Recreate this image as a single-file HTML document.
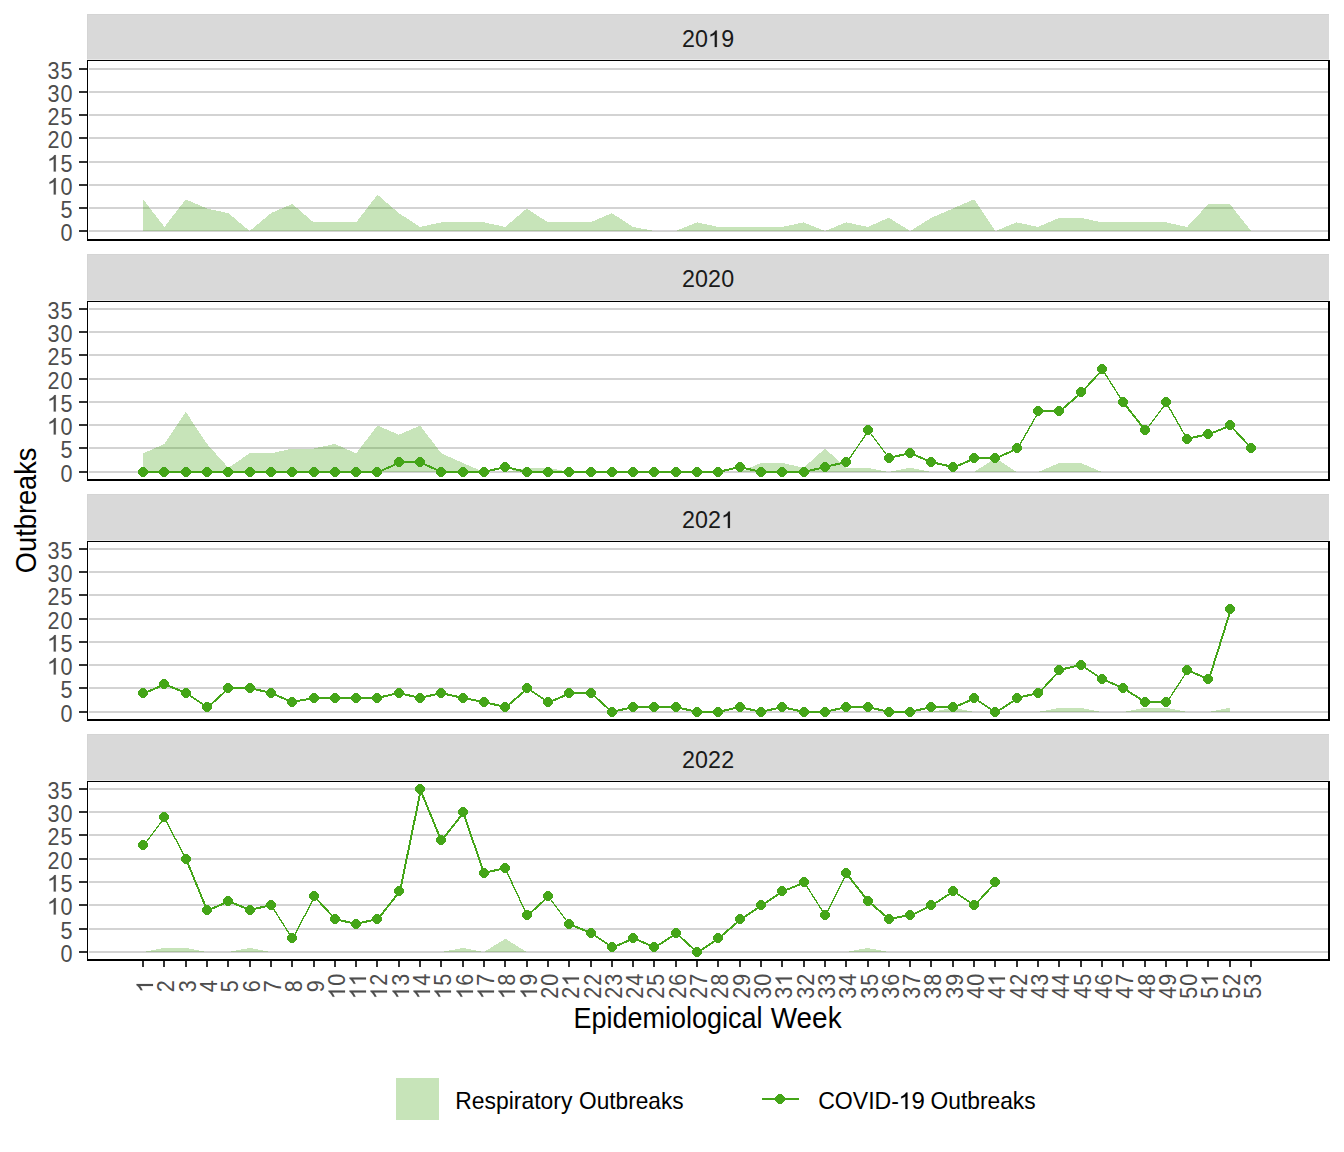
<!DOCTYPE html>
<html><head><meta charset="utf-8"><title>Outbreaks by Epidemiological Week</title>
<style>
html,body{margin:0;padding:0;background:#fff;}
body{width:1344px;height:1152px;overflow:hidden;font-family:"Liberation Sans",sans-serif;}
svg{display:block;}
text{font-family:"Liberation Sans",sans-serif;}
.ax{font-size:24px;fill:#4D4D4D;}
.st{font-size:24px;fill:#1A1A1A;}
.ax path{stroke:#4D4D4D;stroke-width:14;}
.st path,.lg path{stroke:#111;stroke-width:14;}
.ti{font-size:29px;fill:#000;}
.lg{font-size:24px;fill:#000;}
.crisp{shape-rendering:crispEdges;}
</style></head><body>
<svg width="1344" height="1152" viewBox="0 0 1344 1152">
<rect x="0" y="0" width="1344" height="1152" fill="#fff"/>
<g class="crisp"><rect x="87" y="14" width="1242" height="45" fill="#D9D9D9"/><rect x="87" y="14" width="1242" height="1" fill="#D4D4D4"/><rect x="87" y="14" width="1" height="45" fill="#D4D4D4"/><rect x="87" y="59" width="1242" height="1" fill="#E8E8E8"/></g>
<g class="st"><text text-anchor="middle" transform="translate(688.37,47.00) scale(0.97,1)">2</text><text text-anchor="middle" transform="translate(701.47,47.00) scale(0.97,1)">0</text><path d="M763 0H583V1147Q518 1085 412.5 1023Q307 961 223 930V1104Q374 1175 487 1276Q600 1377 647 1472H763Z" transform="translate(707.90,47.00) scale(0.01172,-0.01122)"/><text text-anchor="middle" transform="translate(727.67,47.00) scale(0.97,1)">9</text></g>
<g class="crisp" fill="#D3D3D3"><rect x="89" y="68" width="1239" height="2"/><rect x="89" y="91" width="1239" height="2"/><rect x="89" y="114" width="1239" height="2"/><rect x="89" y="137" width="1239" height="2"/><rect x="89" y="161" width="1239" height="2"/><rect x="89" y="184" width="1239" height="2"/><rect x="89" y="207" width="1239" height="2"/><rect x="89" y="230" width="1239" height="2"/></g>
<g class="crisp" fill="#333333"><rect x="79" y="68" width="8" height="2"/><rect x="79" y="91" width="8" height="2"/><rect x="79" y="114" width="8" height="2"/><rect x="79" y="137" width="8" height="2"/><rect x="79" y="161" width="8" height="2"/><rect x="79" y="184" width="8" height="2"/><rect x="79" y="207" width="8" height="2"/><rect x="79" y="230" width="8" height="2"/></g>
<g class="ax"><text text-anchor="middle" transform="translate(53.56,78.50) scale(0.9,1)">3</text><text text-anchor="middle" transform="translate(66.57,78.50) scale(0.9,1)">5</text><text text-anchor="middle" transform="translate(53.56,101.50) scale(0.9,1)">3</text><text text-anchor="middle" transform="translate(66.57,101.50) scale(0.9,1)">0</text><text text-anchor="middle" transform="translate(53.56,124.50) scale(0.9,1)">2</text><text text-anchor="middle" transform="translate(66.57,124.50) scale(0.9,1)">5</text><text text-anchor="middle" transform="translate(53.56,147.50) scale(0.9,1)">2</text><text text-anchor="middle" transform="translate(66.57,147.50) scale(0.9,1)">0</text><path d="M763 0H583V1147Q518 1085 412.5 1023Q307 961 223 930V1104Q374 1175 487 1276Q600 1377 647 1472H763Z" transform="translate(46.88,171.50) scale(0.01172,-0.01122)"/><text text-anchor="middle" transform="translate(66.57,171.50) scale(0.9,1)">5</text><path d="M763 0H583V1147Q518 1085 412.5 1023Q307 961 223 930V1104Q374 1175 487 1276Q600 1377 647 1472H763Z" transform="translate(46.88,194.50) scale(0.01172,-0.01122)"/><text text-anchor="middle" transform="translate(66.57,194.50) scale(0.9,1)">0</text><text text-anchor="middle" transform="translate(66.57,217.50) scale(0.9,1)">5</text><text text-anchor="middle" transform="translate(66.57,240.50) scale(0.9,1)">0</text></g>
<path class="crisp" d="M143.11,231.00 L143.11,199.35 L164.42,226.95 L185.72,199.35 L207.03,208.55 L228.34,213.15 L249.65,231.00 L270.95,213.15 L292.26,203.95 L313.57,222.35 L334.87,222.35 L356.18,222.35 L377.49,194.75 L398.79,213.15 L420.10,226.95 L441.41,222.35 L462.71,222.35 L484.02,222.35 L505.33,226.95 L526.64,208.55 L547.94,222.35 L569.25,222.35 L590.56,222.35 L611.86,213.15 L633.17,226.95 L654.48,231.00 L675.78,231.00 L697.09,222.35 L718.40,226.95 L739.71,226.95 L761.01,226.95 L782.32,226.95 L803.63,222.35 L824.93,231.00 L846.24,222.35 L867.55,226.95 L888.86,217.75 L910.16,231.00 L931.47,217.75 L952.78,208.55 L974.08,199.35 L995.39,231.00 L1016.70,222.35 L1038.00,226.95 L1059.31,217.75 L1080.62,217.75 L1101.92,222.35 L1123.23,222.35 L1144.54,222.35 L1165.85,222.35 L1187.15,226.95 L1208.46,203.95 L1229.77,203.95 L1251.07,231.00 L1251.07,231.00 Z" fill="#44A518" fill-opacity="0.3"/>
<g class="crisp" fill="#000"><rect x="87" y="60" width="1243" height="1"/><rect x="87" y="60" width="1" height="181"/><rect x="87" y="239" width="1243" height="2"/><rect x="1328" y="60" width="2" height="181"/></g>
<g class="crisp"><rect x="87" y="254" width="1242" height="46" fill="#D9D9D9"/><rect x="87" y="254" width="1242" height="1" fill="#D4D4D4"/><rect x="87" y="254" width="1" height="46" fill="#D4D4D4"/><rect x="87" y="300" width="1242" height="1" fill="#E8E8E8"/></g>
<g class="st"><text text-anchor="middle" transform="translate(688.37,287.00) scale(0.97,1)">2</text><text text-anchor="middle" transform="translate(701.47,287.00) scale(0.97,1)">0</text><text text-anchor="middle" transform="translate(714.57,287.00) scale(0.97,1)">2</text><text text-anchor="middle" transform="translate(727.67,287.00) scale(0.97,1)">0</text></g>
<g class="crisp" fill="#D3D3D3"><rect x="89" y="308" width="1239" height="2"/><rect x="89" y="331" width="1239" height="2"/><rect x="89" y="354" width="1239" height="2"/><rect x="89" y="378" width="1239" height="2"/><rect x="89" y="401" width="1239" height="2"/><rect x="89" y="424" width="1239" height="2"/><rect x="89" y="447" width="1239" height="2"/><rect x="89" y="471" width="1239" height="2"/></g>
<g class="crisp" fill="#333333"><rect x="79" y="308" width="8" height="2"/><rect x="79" y="331" width="8" height="2"/><rect x="79" y="354" width="8" height="2"/><rect x="79" y="378" width="8" height="2"/><rect x="79" y="401" width="8" height="2"/><rect x="79" y="424" width="8" height="2"/><rect x="79" y="447" width="8" height="2"/><rect x="79" y="471" width="8" height="2"/></g>
<g class="ax"><text text-anchor="middle" transform="translate(53.56,318.50) scale(0.9,1)">3</text><text text-anchor="middle" transform="translate(66.57,318.50) scale(0.9,1)">5</text><text text-anchor="middle" transform="translate(53.56,341.50) scale(0.9,1)">3</text><text text-anchor="middle" transform="translate(66.57,341.50) scale(0.9,1)">0</text><text text-anchor="middle" transform="translate(53.56,364.50) scale(0.9,1)">2</text><text text-anchor="middle" transform="translate(66.57,364.50) scale(0.9,1)">5</text><text text-anchor="middle" transform="translate(53.56,388.50) scale(0.9,1)">2</text><text text-anchor="middle" transform="translate(66.57,388.50) scale(0.9,1)">0</text><path d="M763 0H583V1147Q518 1085 412.5 1023Q307 961 223 930V1104Q374 1175 487 1276Q600 1377 647 1472H763Z" transform="translate(46.88,411.50) scale(0.01172,-0.01122)"/><text text-anchor="middle" transform="translate(66.57,411.50) scale(0.9,1)">5</text><path d="M763 0H583V1147Q518 1085 412.5 1023Q307 961 223 930V1104Q374 1175 487 1276Q600 1377 647 1472H763Z" transform="translate(46.88,434.50) scale(0.01172,-0.01122)"/><text text-anchor="middle" transform="translate(66.57,434.50) scale(0.9,1)">0</text><text text-anchor="middle" transform="translate(66.57,457.50) scale(0.9,1)">5</text><text text-anchor="middle" transform="translate(66.57,481.50) scale(0.9,1)">0</text></g>
<path class="crisp" d="M143.11,472.00 L143.11,453.35 L164.42,443.95 L185.72,411.75 L207.03,443.95 L228.34,467.75 L249.65,453.35 L270.95,453.35 L292.26,448.55 L313.57,448.55 L334.87,443.95 L356.18,453.35 L377.49,425.55 L398.79,434.75 L420.10,425.55 L441.41,453.35 L462.71,462.95 L484.02,472.00 L505.33,472.00 L526.64,467.75 L547.94,467.75 L569.25,472.00 L590.56,472.00 L611.86,472.00 L633.17,472.00 L654.48,472.00 L675.78,472.00 L697.09,472.00 L718.40,472.00 L739.71,472.00 L761.01,462.95 L782.32,462.95 L803.63,467.75 L824.93,448.55 L846.24,467.75 L867.55,467.75 L888.86,472.00 L910.16,467.75 L931.47,472.00 L952.78,472.00 L974.08,472.00 L995.39,458.15 L1016.70,472.00 L1038.00,472.00 L1059.31,462.95 L1080.62,462.95 L1101.92,472.00 L1123.23,472.00 L1144.54,472.00 L1165.85,472.00 L1187.15,472.00 L1208.46,472.00 L1229.77,472.00 L1251.07,472.00 L1251.07,472.00 Z" fill="#44A518" fill-opacity="0.3"/>
<g class="crisp" fill="none" stroke="#44A518"><line x1="143.00" y1="472.00" x2="164.00" y2="472.00" stroke-width="2.00"/><line x1="164.00" y1="472.00" x2="186.00" y2="472.00" stroke-width="2.00"/><line x1="186.00" y1="472.00" x2="207.00" y2="472.00" stroke-width="2.00"/><line x1="207.00" y1="472.00" x2="228.00" y2="472.00" stroke-width="2.00"/><line x1="228.00" y1="472.00" x2="250.00" y2="472.00" stroke-width="2.00"/><line x1="250.00" y1="472.00" x2="271.00" y2="472.00" stroke-width="2.00"/><line x1="271.00" y1="472.00" x2="292.00" y2="472.00" stroke-width="2.00"/><line x1="292.00" y1="472.00" x2="314.00" y2="472.00" stroke-width="2.00"/><line x1="314.00" y1="472.00" x2="335.00" y2="472.00" stroke-width="2.00"/><line x1="335.00" y1="472.00" x2="356.00" y2="472.00" stroke-width="2.00"/><line x1="356.00" y1="472.00" x2="377.00" y2="472.00" stroke-width="2.00"/><line x1="377.50" y1="472.50" x2="399.50" y2="462.50" stroke-width="1.90"/><line x1="399.00" y1="462.00" x2="420.00" y2="462.00" stroke-width="2.00"/><line x1="420.00" y1="462.00" x2="441.00" y2="472.00" stroke-width="1.90"/><line x1="441.00" y1="472.00" x2="463.00" y2="472.00" stroke-width="2.00"/><line x1="463.00" y1="472.00" x2="484.00" y2="472.00" stroke-width="2.00"/><line x1="484.00" y1="472.00" x2="505.00" y2="467.00" stroke-width="2.00"/><line x1="505.00" y1="467.00" x2="527.00" y2="472.00" stroke-width="2.00"/><line x1="527.00" y1="472.00" x2="548.00" y2="472.00" stroke-width="2.00"/><line x1="548.00" y1="472.00" x2="569.00" y2="472.00" stroke-width="2.00"/><line x1="569.00" y1="472.00" x2="591.00" y2="472.00" stroke-width="2.00"/><line x1="591.00" y1="472.00" x2="612.00" y2="472.00" stroke-width="2.00"/><line x1="612.00" y1="472.00" x2="633.00" y2="472.00" stroke-width="2.00"/><line x1="633.00" y1="472.00" x2="654.00" y2="472.00" stroke-width="2.00"/><line x1="654.00" y1="472.00" x2="676.00" y2="472.00" stroke-width="2.00"/><line x1="676.00" y1="472.00" x2="697.00" y2="472.00" stroke-width="2.00"/><line x1="697.00" y1="472.00" x2="718.00" y2="472.00" stroke-width="2.00"/><line x1="718.00" y1="472.00" x2="740.00" y2="467.00" stroke-width="2.00"/><line x1="740.00" y1="467.00" x2="761.00" y2="472.00" stroke-width="2.00"/><line x1="761.00" y1="472.00" x2="782.00" y2="472.00" stroke-width="2.00"/><line x1="782.00" y1="472.00" x2="804.00" y2="472.00" stroke-width="2.00"/><line x1="804.00" y1="472.00" x2="825.00" y2="467.00" stroke-width="2.00"/><line x1="825.00" y1="467.00" x2="846.00" y2="462.00" stroke-width="2.00"/><line x1="847.00" y1="462.00" x2="869.00" y2="430.00" stroke-width="1.24"/><line x1="868.00" y1="430.00" x2="889.00" y2="458.00" stroke-width="1.20"/><line x1="889.00" y1="458.00" x2="910.00" y2="453.00" stroke-width="2.00"/><line x1="910.00" y1="453.00" x2="931.00" y2="462.00" stroke-width="1.90"/><line x1="931.00" y1="462.00" x2="953.00" y2="467.00" stroke-width="2.00"/><line x1="953.50" y1="467.50" x2="974.50" y2="458.50" stroke-width="1.90"/><line x1="974.00" y1="458.00" x2="995.00" y2="458.00" stroke-width="2.00"/><line x1="995.50" y1="458.50" x2="1017.50" y2="448.50" stroke-width="1.90"/><line x1="1018.00" y1="448.00" x2="1039.00" y2="411.00" stroke-width="1.30"/><line x1="1038.00" y1="411.00" x2="1059.00" y2="411.00" stroke-width="2.00"/><line x1="1059.50" y1="411.50" x2="1081.50" y2="392.50" stroke-width="1.90"/><line x1="1082.00" y1="392.00" x2="1103.00" y2="369.00" stroke-width="1.90"/><line x1="1102.00" y1="369.00" x2="1123.00" y2="402.00" stroke-width="1.27"/><line x1="1123.00" y1="402.00" x2="1145.00" y2="430.00" stroke-width="1.90"/><line x1="1146.00" y1="430.00" x2="1167.00" y2="402.00" stroke-width="1.20"/><line x1="1166.00" y1="402.00" x2="1187.00" y2="439.00" stroke-width="1.30"/><line x1="1187.00" y1="439.00" x2="1208.00" y2="434.00" stroke-width="2.00"/><line x1="1208.50" y1="434.50" x2="1230.50" y2="425.50" stroke-width="1.90"/><line x1="1230.00" y1="425.00" x2="1251.00" y2="448.00" stroke-width="1.90"/></g>
<g class="crisp" fill="#44A518"><polygon points="141.40,467.00 144.60,467.00 148.00,470.40 148.00,473.60 144.60,477.00 141.40,477.00 138.00,473.60 138.00,470.40"/><polygon points="162.40,467.00 165.60,467.00 169.00,470.40 169.00,473.60 165.60,477.00 162.40,477.00 159.00,473.60 159.00,470.40"/><polygon points="184.40,467.00 187.60,467.00 191.00,470.40 191.00,473.60 187.60,477.00 184.40,477.00 181.00,473.60 181.00,470.40"/><polygon points="205.40,467.00 208.60,467.00 212.00,470.40 212.00,473.60 208.60,477.00 205.40,477.00 202.00,473.60 202.00,470.40"/><polygon points="226.40,467.00 229.60,467.00 233.00,470.40 233.00,473.60 229.60,477.00 226.40,477.00 223.00,473.60 223.00,470.40"/><polygon points="248.40,467.00 251.60,467.00 255.00,470.40 255.00,473.60 251.60,477.00 248.40,477.00 245.00,473.60 245.00,470.40"/><polygon points="269.40,467.00 272.60,467.00 276.00,470.40 276.00,473.60 272.60,477.00 269.40,477.00 266.00,473.60 266.00,470.40"/><polygon points="290.40,467.00 293.60,467.00 297.00,470.40 297.00,473.60 293.60,477.00 290.40,477.00 287.00,473.60 287.00,470.40"/><polygon points="312.40,467.00 315.60,467.00 319.00,470.40 319.00,473.60 315.60,477.00 312.40,477.00 309.00,473.60 309.00,470.40"/><polygon points="333.40,467.00 336.60,467.00 340.00,470.40 340.00,473.60 336.60,477.00 333.40,477.00 330.00,473.60 330.00,470.40"/><polygon points="354.40,467.00 357.60,467.00 361.00,470.40 361.00,473.60 357.60,477.00 354.40,477.00 351.00,473.60 351.00,470.40"/><polygon points="375.40,467.00 378.60,467.00 382.00,470.40 382.00,473.60 378.60,477.00 375.40,477.00 372.00,473.60 372.00,470.40"/><polygon points="397.40,457.00 400.60,457.00 404.00,460.40 404.00,463.60 400.60,467.00 397.40,467.00 394.00,463.60 394.00,460.40"/><polygon points="418.40,457.00 421.60,457.00 425.00,460.40 425.00,463.60 421.60,467.00 418.40,467.00 415.00,463.60 415.00,460.40"/><polygon points="439.40,467.00 442.60,467.00 446.00,470.40 446.00,473.60 442.60,477.00 439.40,477.00 436.00,473.60 436.00,470.40"/><polygon points="461.40,467.00 464.60,467.00 468.00,470.40 468.00,473.60 464.60,477.00 461.40,477.00 458.00,473.60 458.00,470.40"/><polygon points="482.40,467.00 485.60,467.00 489.00,470.40 489.00,473.60 485.60,477.00 482.40,477.00 479.00,473.60 479.00,470.40"/><polygon points="503.40,462.00 506.60,462.00 510.00,465.40 510.00,468.60 506.60,472.00 503.40,472.00 500.00,468.60 500.00,465.40"/><polygon points="525.40,467.00 528.60,467.00 532.00,470.40 532.00,473.60 528.60,477.00 525.40,477.00 522.00,473.60 522.00,470.40"/><polygon points="546.40,467.00 549.60,467.00 553.00,470.40 553.00,473.60 549.60,477.00 546.40,477.00 543.00,473.60 543.00,470.40"/><polygon points="567.40,467.00 570.60,467.00 574.00,470.40 574.00,473.60 570.60,477.00 567.40,477.00 564.00,473.60 564.00,470.40"/><polygon points="589.40,467.00 592.60,467.00 596.00,470.40 596.00,473.60 592.60,477.00 589.40,477.00 586.00,473.60 586.00,470.40"/><polygon points="610.40,467.00 613.60,467.00 617.00,470.40 617.00,473.60 613.60,477.00 610.40,477.00 607.00,473.60 607.00,470.40"/><polygon points="631.40,467.00 634.60,467.00 638.00,470.40 638.00,473.60 634.60,477.00 631.40,477.00 628.00,473.60 628.00,470.40"/><polygon points="652.40,467.00 655.60,467.00 659.00,470.40 659.00,473.60 655.60,477.00 652.40,477.00 649.00,473.60 649.00,470.40"/><polygon points="674.40,467.00 677.60,467.00 681.00,470.40 681.00,473.60 677.60,477.00 674.40,477.00 671.00,473.60 671.00,470.40"/><polygon points="695.40,467.00 698.60,467.00 702.00,470.40 702.00,473.60 698.60,477.00 695.40,477.00 692.00,473.60 692.00,470.40"/><polygon points="716.40,467.00 719.60,467.00 723.00,470.40 723.00,473.60 719.60,477.00 716.40,477.00 713.00,473.60 713.00,470.40"/><polygon points="738.40,462.00 741.60,462.00 745.00,465.40 745.00,468.60 741.60,472.00 738.40,472.00 735.00,468.60 735.00,465.40"/><polygon points="759.40,467.00 762.60,467.00 766.00,470.40 766.00,473.60 762.60,477.00 759.40,477.00 756.00,473.60 756.00,470.40"/><polygon points="780.40,467.00 783.60,467.00 787.00,470.40 787.00,473.60 783.60,477.00 780.40,477.00 777.00,473.60 777.00,470.40"/><polygon points="802.40,467.00 805.60,467.00 809.00,470.40 809.00,473.60 805.60,477.00 802.40,477.00 799.00,473.60 799.00,470.40"/><polygon points="823.40,462.00 826.60,462.00 830.00,465.40 830.00,468.60 826.60,472.00 823.40,472.00 820.00,468.60 820.00,465.40"/><polygon points="844.40,457.00 847.60,457.00 851.00,460.40 851.00,463.60 847.60,467.00 844.40,467.00 841.00,463.60 841.00,460.40"/><polygon points="866.40,425.00 869.60,425.00 873.00,428.40 873.00,431.60 869.60,435.00 866.40,435.00 863.00,431.60 863.00,428.40"/><polygon points="887.40,453.00 890.60,453.00 894.00,456.40 894.00,459.60 890.60,463.00 887.40,463.00 884.00,459.60 884.00,456.40"/><polygon points="908.40,448.00 911.60,448.00 915.00,451.40 915.00,454.60 911.60,458.00 908.40,458.00 905.00,454.60 905.00,451.40"/><polygon points="929.40,457.00 932.60,457.00 936.00,460.40 936.00,463.60 932.60,467.00 929.40,467.00 926.00,463.60 926.00,460.40"/><polygon points="951.40,462.00 954.60,462.00 958.00,465.40 958.00,468.60 954.60,472.00 951.40,472.00 948.00,468.60 948.00,465.40"/><polygon points="972.40,453.00 975.60,453.00 979.00,456.40 979.00,459.60 975.60,463.00 972.40,463.00 969.00,459.60 969.00,456.40"/><polygon points="993.40,453.00 996.60,453.00 1000.00,456.40 1000.00,459.60 996.60,463.00 993.40,463.00 990.00,459.60 990.00,456.40"/><polygon points="1015.40,443.00 1018.60,443.00 1022.00,446.40 1022.00,449.60 1018.60,453.00 1015.40,453.00 1012.00,449.60 1012.00,446.40"/><polygon points="1036.40,406.00 1039.60,406.00 1043.00,409.40 1043.00,412.60 1039.60,416.00 1036.40,416.00 1033.00,412.60 1033.00,409.40"/><polygon points="1057.40,406.00 1060.60,406.00 1064.00,409.40 1064.00,412.60 1060.60,416.00 1057.40,416.00 1054.00,412.60 1054.00,409.40"/><polygon points="1079.40,387.00 1082.60,387.00 1086.00,390.40 1086.00,393.60 1082.60,397.00 1079.40,397.00 1076.00,393.60 1076.00,390.40"/><polygon points="1100.40,364.00 1103.60,364.00 1107.00,367.40 1107.00,370.60 1103.60,374.00 1100.40,374.00 1097.00,370.60 1097.00,367.40"/><polygon points="1121.40,397.00 1124.60,397.00 1128.00,400.40 1128.00,403.60 1124.60,407.00 1121.40,407.00 1118.00,403.60 1118.00,400.40"/><polygon points="1143.40,425.00 1146.60,425.00 1150.00,428.40 1150.00,431.60 1146.60,435.00 1143.40,435.00 1140.00,431.60 1140.00,428.40"/><polygon points="1164.40,397.00 1167.60,397.00 1171.00,400.40 1171.00,403.60 1167.60,407.00 1164.40,407.00 1161.00,403.60 1161.00,400.40"/><polygon points="1185.40,434.00 1188.60,434.00 1192.00,437.40 1192.00,440.60 1188.60,444.00 1185.40,444.00 1182.00,440.60 1182.00,437.40"/><polygon points="1206.40,429.00 1209.60,429.00 1213.00,432.40 1213.00,435.60 1209.60,439.00 1206.40,439.00 1203.00,435.60 1203.00,432.40"/><polygon points="1228.40,420.00 1231.60,420.00 1235.00,423.40 1235.00,426.60 1231.60,430.00 1228.40,430.00 1225.00,426.60 1225.00,423.40"/><polygon points="1249.40,443.00 1252.60,443.00 1256.00,446.40 1256.00,449.60 1252.60,453.00 1249.40,453.00 1246.00,449.60 1246.00,446.40"/></g>
<g class="crisp" fill="#000"><rect x="87" y="301" width="1243" height="1"/><rect x="87" y="301" width="1" height="180"/><rect x="87" y="479" width="1243" height="2"/><rect x="1328" y="301" width="2" height="180"/></g>
<g class="crisp"><rect x="87" y="494" width="1242" height="46" fill="#D9D9D9"/><rect x="87" y="494" width="1242" height="1" fill="#D4D4D4"/><rect x="87" y="494" width="1" height="46" fill="#D4D4D4"/><rect x="87" y="540" width="1242" height="1" fill="#E8E8E8"/></g>
<g class="st"><text text-anchor="middle" transform="translate(688.37,528.00) scale(0.97,1)">2</text><text text-anchor="middle" transform="translate(701.47,528.00) scale(0.97,1)">0</text><text text-anchor="middle" transform="translate(714.57,528.00) scale(0.97,1)">2</text><path d="M763 0H583V1147Q518 1085 412.5 1023Q307 961 223 930V1104Q374 1175 487 1276Q600 1377 647 1472H763Z" transform="translate(721.00,528.00) scale(0.01172,-0.01122)"/></g>
<g class="crisp" fill="#D3D3D3"><rect x="89" y="548" width="1239" height="2"/><rect x="89" y="571" width="1239" height="2"/><rect x="89" y="594" width="1239" height="2"/><rect x="89" y="618" width="1239" height="2"/><rect x="89" y="641" width="1239" height="2"/><rect x="89" y="664" width="1239" height="2"/><rect x="89" y="687" width="1239" height="2"/><rect x="89" y="711" width="1239" height="2"/></g>
<g class="crisp" fill="#333333"><rect x="79" y="548" width="8" height="2"/><rect x="79" y="571" width="8" height="2"/><rect x="79" y="594" width="8" height="2"/><rect x="79" y="618" width="8" height="2"/><rect x="79" y="641" width="8" height="2"/><rect x="79" y="664" width="8" height="2"/><rect x="79" y="687" width="8" height="2"/><rect x="79" y="711" width="8" height="2"/></g>
<g class="ax"><text text-anchor="middle" transform="translate(53.56,558.50) scale(0.9,1)">3</text><text text-anchor="middle" transform="translate(66.57,558.50) scale(0.9,1)">5</text><text text-anchor="middle" transform="translate(53.56,581.50) scale(0.9,1)">3</text><text text-anchor="middle" transform="translate(66.57,581.50) scale(0.9,1)">0</text><text text-anchor="middle" transform="translate(53.56,604.50) scale(0.9,1)">2</text><text text-anchor="middle" transform="translate(66.57,604.50) scale(0.9,1)">5</text><text text-anchor="middle" transform="translate(53.56,628.50) scale(0.9,1)">2</text><text text-anchor="middle" transform="translate(66.57,628.50) scale(0.9,1)">0</text><path d="M763 0H583V1147Q518 1085 412.5 1023Q307 961 223 930V1104Q374 1175 487 1276Q600 1377 647 1472H763Z" transform="translate(46.88,651.50) scale(0.01172,-0.01122)"/><text text-anchor="middle" transform="translate(66.57,651.50) scale(0.9,1)">5</text><path d="M763 0H583V1147Q518 1085 412.5 1023Q307 961 223 930V1104Q374 1175 487 1276Q600 1377 647 1472H763Z" transform="translate(46.88,674.50) scale(0.01172,-0.01122)"/><text text-anchor="middle" transform="translate(66.57,674.50) scale(0.9,1)">0</text><text text-anchor="middle" transform="translate(66.57,697.50) scale(0.9,1)">5</text><text text-anchor="middle" transform="translate(66.57,721.50) scale(0.9,1)">0</text></g>
<path class="crisp" d="M143.11,712.00 L143.11,712.00 L164.42,712.00 L185.72,712.00 L207.03,712.00 L228.34,712.00 L249.65,712.00 L270.95,712.00 L292.26,712.00 L313.57,712.00 L334.87,712.00 L356.18,712.00 L377.49,712.00 L398.79,712.00 L420.10,712.00 L441.41,712.00 L462.71,712.00 L484.02,712.00 L505.33,712.00 L526.64,712.00 L547.94,712.00 L569.25,712.00 L590.56,712.00 L611.86,712.00 L633.17,712.00 L654.48,712.00 L675.78,712.00 L697.09,712.00 L718.40,712.00 L739.71,712.00 L761.01,712.00 L782.32,712.00 L803.63,712.00 L824.93,712.00 L846.24,712.00 L867.55,712.00 L888.86,712.00 L910.16,712.00 L931.47,712.00 L952.78,707.75 L974.08,712.00 L995.39,712.00 L1016.70,712.00 L1038.00,712.00 L1059.31,707.75 L1080.62,707.75 L1101.92,712.00 L1123.23,712.00 L1144.54,707.75 L1165.85,707.75 L1187.15,712.00 L1208.46,712.00 L1229.77,707.75 L1229.77,712.00 Z" fill="#44A518" fill-opacity="0.3"/>
<g class="crisp" fill="none" stroke="#44A518"><line x1="143.50" y1="693.50" x2="164.50" y2="684.50" stroke-width="1.90"/><line x1="164.00" y1="684.00" x2="186.00" y2="693.00" stroke-width="1.90"/><line x1="186.00" y1="693.00" x2="207.00" y2="707.00" stroke-width="1.90"/><line x1="207.50" y1="707.50" x2="228.50" y2="688.50" stroke-width="1.90"/><line x1="228.00" y1="688.00" x2="250.00" y2="688.00" stroke-width="2.00"/><line x1="250.00" y1="688.00" x2="271.00" y2="693.00" stroke-width="2.00"/><line x1="271.00" y1="693.00" x2="292.00" y2="702.00" stroke-width="1.90"/><line x1="292.00" y1="702.00" x2="314.00" y2="698.00" stroke-width="2.00"/><line x1="314.00" y1="698.00" x2="335.00" y2="698.00" stroke-width="2.00"/><line x1="335.00" y1="698.00" x2="356.00" y2="698.00" stroke-width="2.00"/><line x1="356.00" y1="698.00" x2="377.00" y2="698.00" stroke-width="2.00"/><line x1="377.00" y1="698.00" x2="399.00" y2="693.00" stroke-width="2.00"/><line x1="399.00" y1="693.00" x2="420.00" y2="698.00" stroke-width="2.00"/><line x1="420.00" y1="698.00" x2="441.00" y2="693.00" stroke-width="2.00"/><line x1="441.00" y1="693.00" x2="463.00" y2="698.00" stroke-width="2.00"/><line x1="463.00" y1="698.00" x2="484.00" y2="702.00" stroke-width="2.00"/><line x1="484.00" y1="702.00" x2="505.00" y2="707.00" stroke-width="2.00"/><line x1="505.50" y1="707.50" x2="527.50" y2="688.50" stroke-width="1.90"/><line x1="527.00" y1="688.00" x2="548.00" y2="702.00" stroke-width="1.90"/><line x1="548.50" y1="702.50" x2="569.50" y2="693.50" stroke-width="1.90"/><line x1="569.00" y1="693.00" x2="591.00" y2="693.00" stroke-width="2.00"/><line x1="591.00" y1="693.00" x2="612.00" y2="712.00" stroke-width="1.90"/><line x1="612.00" y1="712.00" x2="633.00" y2="707.00" stroke-width="2.00"/><line x1="633.00" y1="707.00" x2="654.00" y2="707.00" stroke-width="2.00"/><line x1="654.00" y1="707.00" x2="676.00" y2="707.00" stroke-width="2.00"/><line x1="676.00" y1="707.00" x2="697.00" y2="712.00" stroke-width="2.00"/><line x1="697.00" y1="712.00" x2="718.00" y2="712.00" stroke-width="2.00"/><line x1="718.00" y1="712.00" x2="740.00" y2="707.00" stroke-width="2.00"/><line x1="740.00" y1="707.00" x2="761.00" y2="712.00" stroke-width="2.00"/><line x1="761.00" y1="712.00" x2="782.00" y2="707.00" stroke-width="2.00"/><line x1="782.00" y1="707.00" x2="804.00" y2="712.00" stroke-width="2.00"/><line x1="804.00" y1="712.00" x2="825.00" y2="712.00" stroke-width="2.00"/><line x1="825.00" y1="712.00" x2="846.00" y2="707.00" stroke-width="2.00"/><line x1="846.00" y1="707.00" x2="868.00" y2="707.00" stroke-width="2.00"/><line x1="868.00" y1="707.00" x2="889.00" y2="712.00" stroke-width="2.00"/><line x1="889.00" y1="712.00" x2="910.00" y2="712.00" stroke-width="2.00"/><line x1="910.00" y1="712.00" x2="931.00" y2="707.00" stroke-width="2.00"/><line x1="931.00" y1="707.00" x2="953.00" y2="707.00" stroke-width="2.00"/><line x1="953.50" y1="707.50" x2="974.50" y2="698.50" stroke-width="1.90"/><line x1="974.00" y1="698.00" x2="995.00" y2="712.00" stroke-width="1.90"/><line x1="995.50" y1="712.50" x2="1017.50" y2="698.50" stroke-width="1.90"/><line x1="1017.00" y1="698.00" x2="1038.00" y2="693.00" stroke-width="2.00"/><line x1="1039.00" y1="693.00" x2="1060.00" y2="670.00" stroke-width="1.90"/><line x1="1059.00" y1="670.00" x2="1081.00" y2="665.00" stroke-width="2.00"/><line x1="1081.00" y1="665.00" x2="1102.00" y2="679.00" stroke-width="1.90"/><line x1="1102.00" y1="679.00" x2="1123.00" y2="688.00" stroke-width="1.90"/><line x1="1123.00" y1="688.00" x2="1145.00" y2="702.00" stroke-width="1.90"/><line x1="1145.00" y1="702.00" x2="1166.00" y2="702.00" stroke-width="2.00"/><line x1="1167.00" y1="702.00" x2="1188.00" y2="670.00" stroke-width="1.25"/><line x1="1187.00" y1="670.00" x2="1208.00" y2="679.00" stroke-width="1.90"/><line x1="1209.00" y1="679.00" x2="1231.00" y2="609.00" stroke-width="1.90"/></g>
<g class="crisp" fill="#44A518"><polygon points="141.40,688.00 144.60,688.00 148.00,691.40 148.00,694.60 144.60,698.00 141.40,698.00 138.00,694.60 138.00,691.40"/><polygon points="162.40,679.00 165.60,679.00 169.00,682.40 169.00,685.60 165.60,689.00 162.40,689.00 159.00,685.60 159.00,682.40"/><polygon points="184.40,688.00 187.60,688.00 191.00,691.40 191.00,694.60 187.60,698.00 184.40,698.00 181.00,694.60 181.00,691.40"/><polygon points="205.40,702.00 208.60,702.00 212.00,705.40 212.00,708.60 208.60,712.00 205.40,712.00 202.00,708.60 202.00,705.40"/><polygon points="226.40,683.00 229.60,683.00 233.00,686.40 233.00,689.60 229.60,693.00 226.40,693.00 223.00,689.60 223.00,686.40"/><polygon points="248.40,683.00 251.60,683.00 255.00,686.40 255.00,689.60 251.60,693.00 248.40,693.00 245.00,689.60 245.00,686.40"/><polygon points="269.40,688.00 272.60,688.00 276.00,691.40 276.00,694.60 272.60,698.00 269.40,698.00 266.00,694.60 266.00,691.40"/><polygon points="290.40,697.00 293.60,697.00 297.00,700.40 297.00,703.60 293.60,707.00 290.40,707.00 287.00,703.60 287.00,700.40"/><polygon points="312.40,693.00 315.60,693.00 319.00,696.40 319.00,699.60 315.60,703.00 312.40,703.00 309.00,699.60 309.00,696.40"/><polygon points="333.40,693.00 336.60,693.00 340.00,696.40 340.00,699.60 336.60,703.00 333.40,703.00 330.00,699.60 330.00,696.40"/><polygon points="354.40,693.00 357.60,693.00 361.00,696.40 361.00,699.60 357.60,703.00 354.40,703.00 351.00,699.60 351.00,696.40"/><polygon points="375.40,693.00 378.60,693.00 382.00,696.40 382.00,699.60 378.60,703.00 375.40,703.00 372.00,699.60 372.00,696.40"/><polygon points="397.40,688.00 400.60,688.00 404.00,691.40 404.00,694.60 400.60,698.00 397.40,698.00 394.00,694.60 394.00,691.40"/><polygon points="418.40,693.00 421.60,693.00 425.00,696.40 425.00,699.60 421.60,703.00 418.40,703.00 415.00,699.60 415.00,696.40"/><polygon points="439.40,688.00 442.60,688.00 446.00,691.40 446.00,694.60 442.60,698.00 439.40,698.00 436.00,694.60 436.00,691.40"/><polygon points="461.40,693.00 464.60,693.00 468.00,696.40 468.00,699.60 464.60,703.00 461.40,703.00 458.00,699.60 458.00,696.40"/><polygon points="482.40,697.00 485.60,697.00 489.00,700.40 489.00,703.60 485.60,707.00 482.40,707.00 479.00,703.60 479.00,700.40"/><polygon points="503.40,702.00 506.60,702.00 510.00,705.40 510.00,708.60 506.60,712.00 503.40,712.00 500.00,708.60 500.00,705.40"/><polygon points="525.40,683.00 528.60,683.00 532.00,686.40 532.00,689.60 528.60,693.00 525.40,693.00 522.00,689.60 522.00,686.40"/><polygon points="546.40,697.00 549.60,697.00 553.00,700.40 553.00,703.60 549.60,707.00 546.40,707.00 543.00,703.60 543.00,700.40"/><polygon points="567.40,688.00 570.60,688.00 574.00,691.40 574.00,694.60 570.60,698.00 567.40,698.00 564.00,694.60 564.00,691.40"/><polygon points="589.40,688.00 592.60,688.00 596.00,691.40 596.00,694.60 592.60,698.00 589.40,698.00 586.00,694.60 586.00,691.40"/><polygon points="610.40,707.00 613.60,707.00 617.00,710.40 617.00,713.60 613.60,717.00 610.40,717.00 607.00,713.60 607.00,710.40"/><polygon points="631.40,702.00 634.60,702.00 638.00,705.40 638.00,708.60 634.60,712.00 631.40,712.00 628.00,708.60 628.00,705.40"/><polygon points="652.40,702.00 655.60,702.00 659.00,705.40 659.00,708.60 655.60,712.00 652.40,712.00 649.00,708.60 649.00,705.40"/><polygon points="674.40,702.00 677.60,702.00 681.00,705.40 681.00,708.60 677.60,712.00 674.40,712.00 671.00,708.60 671.00,705.40"/><polygon points="695.40,707.00 698.60,707.00 702.00,710.40 702.00,713.60 698.60,717.00 695.40,717.00 692.00,713.60 692.00,710.40"/><polygon points="716.40,707.00 719.60,707.00 723.00,710.40 723.00,713.60 719.60,717.00 716.40,717.00 713.00,713.60 713.00,710.40"/><polygon points="738.40,702.00 741.60,702.00 745.00,705.40 745.00,708.60 741.60,712.00 738.40,712.00 735.00,708.60 735.00,705.40"/><polygon points="759.40,707.00 762.60,707.00 766.00,710.40 766.00,713.60 762.60,717.00 759.40,717.00 756.00,713.60 756.00,710.40"/><polygon points="780.40,702.00 783.60,702.00 787.00,705.40 787.00,708.60 783.60,712.00 780.40,712.00 777.00,708.60 777.00,705.40"/><polygon points="802.40,707.00 805.60,707.00 809.00,710.40 809.00,713.60 805.60,717.00 802.40,717.00 799.00,713.60 799.00,710.40"/><polygon points="823.40,707.00 826.60,707.00 830.00,710.40 830.00,713.60 826.60,717.00 823.40,717.00 820.00,713.60 820.00,710.40"/><polygon points="844.40,702.00 847.60,702.00 851.00,705.40 851.00,708.60 847.60,712.00 844.40,712.00 841.00,708.60 841.00,705.40"/><polygon points="866.40,702.00 869.60,702.00 873.00,705.40 873.00,708.60 869.60,712.00 866.40,712.00 863.00,708.60 863.00,705.40"/><polygon points="887.40,707.00 890.60,707.00 894.00,710.40 894.00,713.60 890.60,717.00 887.40,717.00 884.00,713.60 884.00,710.40"/><polygon points="908.40,707.00 911.60,707.00 915.00,710.40 915.00,713.60 911.60,717.00 908.40,717.00 905.00,713.60 905.00,710.40"/><polygon points="929.40,702.00 932.60,702.00 936.00,705.40 936.00,708.60 932.60,712.00 929.40,712.00 926.00,708.60 926.00,705.40"/><polygon points="951.40,702.00 954.60,702.00 958.00,705.40 958.00,708.60 954.60,712.00 951.40,712.00 948.00,708.60 948.00,705.40"/><polygon points="972.40,693.00 975.60,693.00 979.00,696.40 979.00,699.60 975.60,703.00 972.40,703.00 969.00,699.60 969.00,696.40"/><polygon points="993.40,707.00 996.60,707.00 1000.00,710.40 1000.00,713.60 996.60,717.00 993.40,717.00 990.00,713.60 990.00,710.40"/><polygon points="1015.40,693.00 1018.60,693.00 1022.00,696.40 1022.00,699.60 1018.60,703.00 1015.40,703.00 1012.00,699.60 1012.00,696.40"/><polygon points="1036.40,688.00 1039.60,688.00 1043.00,691.40 1043.00,694.60 1039.60,698.00 1036.40,698.00 1033.00,694.60 1033.00,691.40"/><polygon points="1057.40,665.00 1060.60,665.00 1064.00,668.40 1064.00,671.60 1060.60,675.00 1057.40,675.00 1054.00,671.60 1054.00,668.40"/><polygon points="1079.40,660.00 1082.60,660.00 1086.00,663.40 1086.00,666.60 1082.60,670.00 1079.40,670.00 1076.00,666.60 1076.00,663.40"/><polygon points="1100.40,674.00 1103.60,674.00 1107.00,677.40 1107.00,680.60 1103.60,684.00 1100.40,684.00 1097.00,680.60 1097.00,677.40"/><polygon points="1121.40,683.00 1124.60,683.00 1128.00,686.40 1128.00,689.60 1124.60,693.00 1121.40,693.00 1118.00,689.60 1118.00,686.40"/><polygon points="1143.40,697.00 1146.60,697.00 1150.00,700.40 1150.00,703.60 1146.60,707.00 1143.40,707.00 1140.00,703.60 1140.00,700.40"/><polygon points="1164.40,697.00 1167.60,697.00 1171.00,700.40 1171.00,703.60 1167.60,707.00 1164.40,707.00 1161.00,703.60 1161.00,700.40"/><polygon points="1185.40,665.00 1188.60,665.00 1192.00,668.40 1192.00,671.60 1188.60,675.00 1185.40,675.00 1182.00,671.60 1182.00,668.40"/><polygon points="1206.40,674.00 1209.60,674.00 1213.00,677.40 1213.00,680.60 1209.60,684.00 1206.40,684.00 1203.00,680.60 1203.00,677.40"/><polygon points="1228.40,604.00 1231.60,604.00 1235.00,607.40 1235.00,610.60 1231.60,614.00 1228.40,614.00 1225.00,610.60 1225.00,607.40"/></g>
<g class="crisp" fill="#000"><rect x="87" y="541" width="1243" height="1"/><rect x="87" y="541" width="1" height="180"/><rect x="87" y="719" width="1243" height="2"/><rect x="1328" y="541" width="2" height="180"/></g>
<g class="crisp"><rect x="87" y="734" width="1242" height="46" fill="#D9D9D9"/><rect x="87" y="734" width="1242" height="1" fill="#D4D4D4"/><rect x="87" y="734" width="1" height="46" fill="#D4D4D4"/><rect x="87" y="780" width="1242" height="1" fill="#E8E8E8"/></g>
<g class="st"><text text-anchor="middle" transform="translate(688.37,768.00) scale(0.97,1)">2</text><text text-anchor="middle" transform="translate(701.47,768.00) scale(0.97,1)">0</text><text text-anchor="middle" transform="translate(714.57,768.00) scale(0.97,1)">2</text><text text-anchor="middle" transform="translate(727.67,768.00) scale(0.97,1)">2</text></g>
<g class="crisp" fill="#D3D3D3"><rect x="89" y="788" width="1239" height="2"/><rect x="89" y="811" width="1239" height="2"/><rect x="89" y="834" width="1239" height="2"/><rect x="89" y="858" width="1239" height="2"/><rect x="89" y="881" width="1239" height="2"/><rect x="89" y="904" width="1239" height="2"/><rect x="89" y="928" width="1239" height="2"/><rect x="89" y="951" width="1239" height="2"/></g>
<g class="crisp" fill="#333333"><rect x="79" y="788" width="8" height="2"/><rect x="79" y="811" width="8" height="2"/><rect x="79" y="834" width="8" height="2"/><rect x="79" y="858" width="8" height="2"/><rect x="79" y="881" width="8" height="2"/><rect x="79" y="904" width="8" height="2"/><rect x="79" y="928" width="8" height="2"/><rect x="79" y="951" width="8" height="2"/></g>
<g class="ax"><text text-anchor="middle" transform="translate(53.56,798.50) scale(0.9,1)">3</text><text text-anchor="middle" transform="translate(66.57,798.50) scale(0.9,1)">5</text><text text-anchor="middle" transform="translate(53.56,821.50) scale(0.9,1)">3</text><text text-anchor="middle" transform="translate(66.57,821.50) scale(0.9,1)">0</text><text text-anchor="middle" transform="translate(53.56,844.50) scale(0.9,1)">2</text><text text-anchor="middle" transform="translate(66.57,844.50) scale(0.9,1)">5</text><text text-anchor="middle" transform="translate(53.56,868.50) scale(0.9,1)">2</text><text text-anchor="middle" transform="translate(66.57,868.50) scale(0.9,1)">0</text><path d="M763 0H583V1147Q518 1085 412.5 1023Q307 961 223 930V1104Q374 1175 487 1276Q600 1377 647 1472H763Z" transform="translate(46.88,891.50) scale(0.01172,-0.01122)"/><text text-anchor="middle" transform="translate(66.57,891.50) scale(0.9,1)">5</text><path d="M763 0H583V1147Q518 1085 412.5 1023Q307 961 223 930V1104Q374 1175 487 1276Q600 1377 647 1472H763Z" transform="translate(46.88,914.50) scale(0.01172,-0.01122)"/><text text-anchor="middle" transform="translate(66.57,914.50) scale(0.9,1)">0</text><text text-anchor="middle" transform="translate(66.57,938.50) scale(0.9,1)">5</text><text text-anchor="middle" transform="translate(66.57,961.50) scale(0.9,1)">0</text></g>
<path class="crisp" d="M143.11,952.00 L143.11,952.00 L164.42,947.95 L185.72,947.95 L207.03,952.00 L228.34,952.00 L249.65,947.95 L270.95,952.00 L292.26,952.00 L313.57,952.00 L334.87,952.00 L356.18,952.00 L377.49,952.00 L398.79,952.00 L420.10,952.00 L441.41,952.00 L462.71,947.95 L484.02,952.00 L505.33,938.75 L526.64,952.00 L547.94,952.00 L569.25,952.00 L590.56,952.00 L611.86,952.00 L633.17,952.00 L654.48,952.00 L675.78,952.00 L697.09,952.00 L718.40,952.00 L739.71,952.00 L761.01,952.00 L782.32,952.00 L803.63,952.00 L824.93,952.00 L846.24,952.00 L867.55,947.95 L888.86,952.00 L910.16,952.00 L931.47,952.00 L952.78,952.00 L974.08,952.00 L995.39,952.00 L995.39,952.00 Z" fill="#44A518" fill-opacity="0.3"/>
<g class="crisp" fill="none" stroke="#44A518"><line x1="144.00" y1="845.00" x2="165.00" y2="817.00" stroke-width="1.20"/><line x1="164.00" y1="817.00" x2="186.00" y2="859.00" stroke-width="1.33"/><line x1="186.00" y1="859.00" x2="207.00" y2="910.00" stroke-width="1.90"/><line x1="207.50" y1="910.50" x2="228.50" y2="901.50" stroke-width="1.90"/><line x1="228.00" y1="901.00" x2="250.00" y2="910.00" stroke-width="1.90"/><line x1="250.00" y1="910.00" x2="271.00" y2="905.00" stroke-width="2.00"/><line x1="271.00" y1="905.00" x2="292.00" y2="938.00" stroke-width="1.27"/><line x1="293.00" y1="938.00" x2="315.00" y2="896.00" stroke-width="1.33"/><line x1="314.00" y1="896.00" x2="335.00" y2="919.00" stroke-width="1.90"/><line x1="335.00" y1="919.00" x2="356.00" y2="924.00" stroke-width="2.00"/><line x1="356.00" y1="924.00" x2="377.00" y2="919.00" stroke-width="2.00"/><line x1="378.00" y1="919.00" x2="400.00" y2="891.00" stroke-width="1.90"/><line x1="400.00" y1="891.00" x2="421.00" y2="789.00" stroke-width="2.00"/><line x1="420.00" y1="789.00" x2="441.00" y2="840.00" stroke-width="1.90"/><line x1="442.00" y1="840.00" x2="464.00" y2="812.00" stroke-width="1.90"/><line x1="463.00" y1="812.00" x2="484.00" y2="873.00" stroke-width="1.90"/><line x1="484.00" y1="873.00" x2="505.00" y2="868.00" stroke-width="2.00"/><line x1="505.00" y1="868.00" x2="527.00" y2="915.00" stroke-width="1.36"/><line x1="527.50" y1="915.50" x2="548.50" y2="896.50" stroke-width="1.90"/><line x1="548.00" y1="896.00" x2="569.00" y2="924.00" stroke-width="1.20"/><line x1="569.00" y1="924.00" x2="591.00" y2="933.00" stroke-width="1.90"/><line x1="591.00" y1="933.00" x2="612.00" y2="947.00" stroke-width="1.90"/><line x1="612.50" y1="947.50" x2="633.50" y2="938.50" stroke-width="1.90"/><line x1="633.00" y1="938.00" x2="654.00" y2="947.00" stroke-width="1.90"/><line x1="654.50" y1="947.50" x2="676.50" y2="933.50" stroke-width="1.90"/><line x1="676.00" y1="933.00" x2="697.00" y2="952.00" stroke-width="1.90"/><line x1="697.50" y1="952.50" x2="718.50" y2="938.50" stroke-width="1.90"/><line x1="718.50" y1="938.50" x2="740.50" y2="919.50" stroke-width="1.90"/><line x1="740.50" y1="919.50" x2="761.50" y2="905.50" stroke-width="1.90"/><line x1="761.50" y1="905.50" x2="782.50" y2="891.50" stroke-width="1.90"/><line x1="782.50" y1="891.50" x2="804.50" y2="882.50" stroke-width="1.90"/><line x1="804.00" y1="882.00" x2="825.00" y2="915.00" stroke-width="1.27"/><line x1="826.00" y1="915.00" x2="847.00" y2="873.00" stroke-width="1.34"/><line x1="846.00" y1="873.00" x2="868.00" y2="901.00" stroke-width="1.90"/><line x1="868.00" y1="901.00" x2="889.00" y2="919.00" stroke-width="1.90"/><line x1="889.00" y1="919.00" x2="910.00" y2="915.00" stroke-width="2.00"/><line x1="910.50" y1="915.50" x2="931.50" y2="905.50" stroke-width="1.90"/><line x1="931.50" y1="905.50" x2="953.50" y2="891.50" stroke-width="1.90"/><line x1="953.00" y1="891.00" x2="974.00" y2="905.00" stroke-width="1.90"/><line x1="975.00" y1="905.00" x2="996.00" y2="882.00" stroke-width="1.90"/></g>
<g class="crisp" fill="#44A518"><polygon points="141.40,840.00 144.60,840.00 148.00,843.40 148.00,846.60 144.60,850.00 141.40,850.00 138.00,846.60 138.00,843.40"/><polygon points="162.40,812.00 165.60,812.00 169.00,815.40 169.00,818.60 165.60,822.00 162.40,822.00 159.00,818.60 159.00,815.40"/><polygon points="184.40,854.00 187.60,854.00 191.00,857.40 191.00,860.60 187.60,864.00 184.40,864.00 181.00,860.60 181.00,857.40"/><polygon points="205.40,905.00 208.60,905.00 212.00,908.40 212.00,911.60 208.60,915.00 205.40,915.00 202.00,911.60 202.00,908.40"/><polygon points="226.40,896.00 229.60,896.00 233.00,899.40 233.00,902.60 229.60,906.00 226.40,906.00 223.00,902.60 223.00,899.40"/><polygon points="248.40,905.00 251.60,905.00 255.00,908.40 255.00,911.60 251.60,915.00 248.40,915.00 245.00,911.60 245.00,908.40"/><polygon points="269.40,900.00 272.60,900.00 276.00,903.40 276.00,906.60 272.60,910.00 269.40,910.00 266.00,906.60 266.00,903.40"/><polygon points="290.40,933.00 293.60,933.00 297.00,936.40 297.00,939.60 293.60,943.00 290.40,943.00 287.00,939.60 287.00,936.40"/><polygon points="312.40,891.00 315.60,891.00 319.00,894.40 319.00,897.60 315.60,901.00 312.40,901.00 309.00,897.60 309.00,894.40"/><polygon points="333.40,914.00 336.60,914.00 340.00,917.40 340.00,920.60 336.60,924.00 333.40,924.00 330.00,920.60 330.00,917.40"/><polygon points="354.40,919.00 357.60,919.00 361.00,922.40 361.00,925.60 357.60,929.00 354.40,929.00 351.00,925.60 351.00,922.40"/><polygon points="375.40,914.00 378.60,914.00 382.00,917.40 382.00,920.60 378.60,924.00 375.40,924.00 372.00,920.60 372.00,917.40"/><polygon points="397.40,886.00 400.60,886.00 404.00,889.40 404.00,892.60 400.60,896.00 397.40,896.00 394.00,892.60 394.00,889.40"/><polygon points="418.40,784.00 421.60,784.00 425.00,787.40 425.00,790.60 421.60,794.00 418.40,794.00 415.00,790.60 415.00,787.40"/><polygon points="439.40,835.00 442.60,835.00 446.00,838.40 446.00,841.60 442.60,845.00 439.40,845.00 436.00,841.60 436.00,838.40"/><polygon points="461.40,807.00 464.60,807.00 468.00,810.40 468.00,813.60 464.60,817.00 461.40,817.00 458.00,813.60 458.00,810.40"/><polygon points="482.40,868.00 485.60,868.00 489.00,871.40 489.00,874.60 485.60,878.00 482.40,878.00 479.00,874.60 479.00,871.40"/><polygon points="503.40,863.00 506.60,863.00 510.00,866.40 510.00,869.60 506.60,873.00 503.40,873.00 500.00,869.60 500.00,866.40"/><polygon points="525.40,910.00 528.60,910.00 532.00,913.40 532.00,916.60 528.60,920.00 525.40,920.00 522.00,916.60 522.00,913.40"/><polygon points="546.40,891.00 549.60,891.00 553.00,894.40 553.00,897.60 549.60,901.00 546.40,901.00 543.00,897.60 543.00,894.40"/><polygon points="567.40,919.00 570.60,919.00 574.00,922.40 574.00,925.60 570.60,929.00 567.40,929.00 564.00,925.60 564.00,922.40"/><polygon points="589.40,928.00 592.60,928.00 596.00,931.40 596.00,934.60 592.60,938.00 589.40,938.00 586.00,934.60 586.00,931.40"/><polygon points="610.40,942.00 613.60,942.00 617.00,945.40 617.00,948.60 613.60,952.00 610.40,952.00 607.00,948.60 607.00,945.40"/><polygon points="631.40,933.00 634.60,933.00 638.00,936.40 638.00,939.60 634.60,943.00 631.40,943.00 628.00,939.60 628.00,936.40"/><polygon points="652.40,942.00 655.60,942.00 659.00,945.40 659.00,948.60 655.60,952.00 652.40,952.00 649.00,948.60 649.00,945.40"/><polygon points="674.40,928.00 677.60,928.00 681.00,931.40 681.00,934.60 677.60,938.00 674.40,938.00 671.00,934.60 671.00,931.40"/><polygon points="695.40,947.00 698.60,947.00 702.00,950.40 702.00,953.60 698.60,957.00 695.40,957.00 692.00,953.60 692.00,950.40"/><polygon points="716.40,933.00 719.60,933.00 723.00,936.40 723.00,939.60 719.60,943.00 716.40,943.00 713.00,939.60 713.00,936.40"/><polygon points="738.40,914.00 741.60,914.00 745.00,917.40 745.00,920.60 741.60,924.00 738.40,924.00 735.00,920.60 735.00,917.40"/><polygon points="759.40,900.00 762.60,900.00 766.00,903.40 766.00,906.60 762.60,910.00 759.40,910.00 756.00,906.60 756.00,903.40"/><polygon points="780.40,886.00 783.60,886.00 787.00,889.40 787.00,892.60 783.60,896.00 780.40,896.00 777.00,892.60 777.00,889.40"/><polygon points="802.40,877.00 805.60,877.00 809.00,880.40 809.00,883.60 805.60,887.00 802.40,887.00 799.00,883.60 799.00,880.40"/><polygon points="823.40,910.00 826.60,910.00 830.00,913.40 830.00,916.60 826.60,920.00 823.40,920.00 820.00,916.60 820.00,913.40"/><polygon points="844.40,868.00 847.60,868.00 851.00,871.40 851.00,874.60 847.60,878.00 844.40,878.00 841.00,874.60 841.00,871.40"/><polygon points="866.40,896.00 869.60,896.00 873.00,899.40 873.00,902.60 869.60,906.00 866.40,906.00 863.00,902.60 863.00,899.40"/><polygon points="887.40,914.00 890.60,914.00 894.00,917.40 894.00,920.60 890.60,924.00 887.40,924.00 884.00,920.60 884.00,917.40"/><polygon points="908.40,910.00 911.60,910.00 915.00,913.40 915.00,916.60 911.60,920.00 908.40,920.00 905.00,916.60 905.00,913.40"/><polygon points="929.40,900.00 932.60,900.00 936.00,903.40 936.00,906.60 932.60,910.00 929.40,910.00 926.00,906.60 926.00,903.40"/><polygon points="951.40,886.00 954.60,886.00 958.00,889.40 958.00,892.60 954.60,896.00 951.40,896.00 948.00,892.60 948.00,889.40"/><polygon points="972.40,900.00 975.60,900.00 979.00,903.40 979.00,906.60 975.60,910.00 972.40,910.00 969.00,906.60 969.00,903.40"/><polygon points="993.40,877.00 996.60,877.00 1000.00,880.40 1000.00,883.60 996.60,887.00 993.40,887.00 990.00,883.60 990.00,880.40"/></g>
<g class="crisp" fill="#000"><rect x="87" y="781" width="1243" height="1"/><rect x="87" y="781" width="1" height="180"/><rect x="87" y="959" width="1243" height="2"/><rect x="1328" y="781" width="2" height="180"/></g>
<g class="crisp" fill="#333333"><rect x="142" y="961" width="2" height="6"/><rect x="163" y="961" width="2" height="6"/><rect x="185" y="961" width="2" height="6"/><rect x="206" y="961" width="2" height="6"/><rect x="227" y="961" width="2" height="6"/><rect x="249" y="961" width="2" height="6"/><rect x="270" y="961" width="2" height="6"/><rect x="291" y="961" width="2" height="6"/><rect x="313" y="961" width="2" height="6"/><rect x="334" y="961" width="2" height="6"/><rect x="355" y="961" width="2" height="6"/><rect x="376" y="961" width="2" height="6"/><rect x="398" y="961" width="2" height="6"/><rect x="419" y="961" width="2" height="6"/><rect x="440" y="961" width="2" height="6"/><rect x="462" y="961" width="2" height="6"/><rect x="483" y="961" width="2" height="6"/><rect x="504" y="961" width="2" height="6"/><rect x="526" y="961" width="2" height="6"/><rect x="547" y="961" width="2" height="6"/><rect x="568" y="961" width="2" height="6"/><rect x="590" y="961" width="2" height="6"/><rect x="611" y="961" width="2" height="6"/><rect x="632" y="961" width="2" height="6"/><rect x="653" y="961" width="2" height="6"/><rect x="675" y="961" width="2" height="6"/><rect x="696" y="961" width="2" height="6"/><rect x="717" y="961" width="2" height="6"/><rect x="739" y="961" width="2" height="6"/><rect x="760" y="961" width="2" height="6"/><rect x="781" y="961" width="2" height="6"/><rect x="803" y="961" width="2" height="6"/><rect x="824" y="961" width="2" height="6"/><rect x="845" y="961" width="2" height="6"/><rect x="867" y="961" width="2" height="6"/><rect x="888" y="961" width="2" height="6"/><rect x="909" y="961" width="2" height="6"/><rect x="930" y="961" width="2" height="6"/><rect x="952" y="961" width="2" height="6"/><rect x="973" y="961" width="2" height="6"/><rect x="994" y="961" width="2" height="6"/><rect x="1016" y="961" width="2" height="6"/><rect x="1037" y="961" width="2" height="6"/><rect x="1058" y="961" width="2" height="6"/><rect x="1080" y="961" width="2" height="6"/><rect x="1101" y="961" width="2" height="6"/><rect x="1122" y="961" width="2" height="6"/><rect x="1144" y="961" width="2" height="6"/><rect x="1165" y="961" width="2" height="6"/><rect x="1186" y="961" width="2" height="6"/><rect x="1207" y="961" width="2" height="6"/><rect x="1229" y="961" width="2" height="6"/><rect x="1250" y="961" width="2" height="6"/></g>
<g class="ax"><g transform="translate(153,986.4) rotate(-90)"><path d="M763 0H583V1147Q518 1085 412.5 1023Q307 961 223 930V1104Q374 1175 487 1276Q600 1377 647 1472H763Z" transform="translate(-6.50,0.00) scale(0.01172,-0.01122)"/></g><g transform="translate(174,986.4) rotate(-90)"><text text-anchor="middle" transform="translate(0.17,0.00) scale(0.9,1)">2</text></g><g transform="translate(196,986.4) rotate(-90)"><text text-anchor="middle" transform="translate(0.17,0.00) scale(0.9,1)">3</text></g><g transform="translate(217,986.4) rotate(-90)"><text text-anchor="middle" transform="translate(0.17,0.00) scale(0.9,1)">4</text></g><g transform="translate(238,986.4) rotate(-90)"><text text-anchor="middle" transform="translate(0.17,0.00) scale(0.9,1)">5</text></g><g transform="translate(260,986.4) rotate(-90)"><text text-anchor="middle" transform="translate(0.17,0.00) scale(0.9,1)">6</text></g><g transform="translate(281,986.4) rotate(-90)"><text text-anchor="middle" transform="translate(0.17,0.00) scale(0.9,1)">7</text></g><g transform="translate(302,986.4) rotate(-90)"><text text-anchor="middle" transform="translate(0.17,0.00) scale(0.9,1)">8</text></g><g transform="translate(324,986.4) rotate(-90)"><text text-anchor="middle" transform="translate(0.17,0.00) scale(0.9,1)">9</text></g><g transform="translate(345,986.4) rotate(-90)"><path d="M763 0H583V1147Q518 1085 412.5 1023Q307 961 223 930V1104Q374 1175 487 1276Q600 1377 647 1472H763Z" transform="translate(-13.01,0.00) scale(0.01172,-0.01122)"/><text text-anchor="middle" transform="translate(6.67,0.00) scale(0.9,1)">0</text></g><g transform="translate(366,986.4) rotate(-90)"><path d="M763 0H583V1147Q518 1085 412.5 1023Q307 961 223 930V1104Q374 1175 487 1276Q600 1377 647 1472H763Z" transform="translate(-13.01,0.00) scale(0.01172,-0.01122)"/><path d="M763 0H583V1147Q518 1085 412.5 1023Q307 961 223 930V1104Q374 1175 487 1276Q600 1377 647 1472H763Z" transform="translate(0.00,0.00) scale(0.01172,-0.01122)"/></g><g transform="translate(387,986.4) rotate(-90)"><path d="M763 0H583V1147Q518 1085 412.5 1023Q307 961 223 930V1104Q374 1175 487 1276Q600 1377 647 1472H763Z" transform="translate(-13.01,0.00) scale(0.01172,-0.01122)"/><text text-anchor="middle" transform="translate(6.67,0.00) scale(0.9,1)">2</text></g><g transform="translate(409,986.4) rotate(-90)"><path d="M763 0H583V1147Q518 1085 412.5 1023Q307 961 223 930V1104Q374 1175 487 1276Q600 1377 647 1472H763Z" transform="translate(-13.01,0.00) scale(0.01172,-0.01122)"/><text text-anchor="middle" transform="translate(6.67,0.00) scale(0.9,1)">3</text></g><g transform="translate(430,986.4) rotate(-90)"><path d="M763 0H583V1147Q518 1085 412.5 1023Q307 961 223 930V1104Q374 1175 487 1276Q600 1377 647 1472H763Z" transform="translate(-13.01,0.00) scale(0.01172,-0.01122)"/><text text-anchor="middle" transform="translate(6.67,0.00) scale(0.9,1)">4</text></g><g transform="translate(451,986.4) rotate(-90)"><path d="M763 0H583V1147Q518 1085 412.5 1023Q307 961 223 930V1104Q374 1175 487 1276Q600 1377 647 1472H763Z" transform="translate(-13.01,0.00) scale(0.01172,-0.01122)"/><text text-anchor="middle" transform="translate(6.67,0.00) scale(0.9,1)">5</text></g><g transform="translate(473,986.4) rotate(-90)"><path d="M763 0H583V1147Q518 1085 412.5 1023Q307 961 223 930V1104Q374 1175 487 1276Q600 1377 647 1472H763Z" transform="translate(-13.01,0.00) scale(0.01172,-0.01122)"/><text text-anchor="middle" transform="translate(6.67,0.00) scale(0.9,1)">6</text></g><g transform="translate(494,986.4) rotate(-90)"><path d="M763 0H583V1147Q518 1085 412.5 1023Q307 961 223 930V1104Q374 1175 487 1276Q600 1377 647 1472H763Z" transform="translate(-13.01,0.00) scale(0.01172,-0.01122)"/><text text-anchor="middle" transform="translate(6.67,0.00) scale(0.9,1)">7</text></g><g transform="translate(515,986.4) rotate(-90)"><path d="M763 0H583V1147Q518 1085 412.5 1023Q307 961 223 930V1104Q374 1175 487 1276Q600 1377 647 1472H763Z" transform="translate(-13.01,0.00) scale(0.01172,-0.01122)"/><text text-anchor="middle" transform="translate(6.67,0.00) scale(0.9,1)">8</text></g><g transform="translate(537,986.4) rotate(-90)"><path d="M763 0H583V1147Q518 1085 412.5 1023Q307 961 223 930V1104Q374 1175 487 1276Q600 1377 647 1472H763Z" transform="translate(-13.01,0.00) scale(0.01172,-0.01122)"/><text text-anchor="middle" transform="translate(6.67,0.00) scale(0.9,1)">9</text></g><g transform="translate(558,986.4) rotate(-90)"><text text-anchor="middle" transform="translate(-6.33,0.00) scale(0.9,1)">2</text><text text-anchor="middle" transform="translate(6.67,0.00) scale(0.9,1)">0</text></g><g transform="translate(579,986.4) rotate(-90)"><text text-anchor="middle" transform="translate(-6.33,0.00) scale(0.9,1)">2</text><path d="M763 0H583V1147Q518 1085 412.5 1023Q307 961 223 930V1104Q374 1175 487 1276Q600 1377 647 1472H763Z" transform="translate(0.00,0.00) scale(0.01172,-0.01122)"/></g><g transform="translate(601,986.4) rotate(-90)"><text text-anchor="middle" transform="translate(-6.33,0.00) scale(0.9,1)">2</text><text text-anchor="middle" transform="translate(6.67,0.00) scale(0.9,1)">2</text></g><g transform="translate(622,986.4) rotate(-90)"><text text-anchor="middle" transform="translate(-6.33,0.00) scale(0.9,1)">2</text><text text-anchor="middle" transform="translate(6.67,0.00) scale(0.9,1)">3</text></g><g transform="translate(643,986.4) rotate(-90)"><text text-anchor="middle" transform="translate(-6.33,0.00) scale(0.9,1)">2</text><text text-anchor="middle" transform="translate(6.67,0.00) scale(0.9,1)">4</text></g><g transform="translate(664,986.4) rotate(-90)"><text text-anchor="middle" transform="translate(-6.33,0.00) scale(0.9,1)">2</text><text text-anchor="middle" transform="translate(6.67,0.00) scale(0.9,1)">5</text></g><g transform="translate(686,986.4) rotate(-90)"><text text-anchor="middle" transform="translate(-6.33,0.00) scale(0.9,1)">2</text><text text-anchor="middle" transform="translate(6.67,0.00) scale(0.9,1)">6</text></g><g transform="translate(707,986.4) rotate(-90)"><text text-anchor="middle" transform="translate(-6.33,0.00) scale(0.9,1)">2</text><text text-anchor="middle" transform="translate(6.67,0.00) scale(0.9,1)">7</text></g><g transform="translate(728,986.4) rotate(-90)"><text text-anchor="middle" transform="translate(-6.33,0.00) scale(0.9,1)">2</text><text text-anchor="middle" transform="translate(6.67,0.00) scale(0.9,1)">8</text></g><g transform="translate(750,986.4) rotate(-90)"><text text-anchor="middle" transform="translate(-6.33,0.00) scale(0.9,1)">2</text><text text-anchor="middle" transform="translate(6.67,0.00) scale(0.9,1)">9</text></g><g transform="translate(771,986.4) rotate(-90)"><text text-anchor="middle" transform="translate(-6.33,0.00) scale(0.9,1)">3</text><text text-anchor="middle" transform="translate(6.67,0.00) scale(0.9,1)">0</text></g><g transform="translate(792,986.4) rotate(-90)"><text text-anchor="middle" transform="translate(-6.33,0.00) scale(0.9,1)">3</text><path d="M763 0H583V1147Q518 1085 412.5 1023Q307 961 223 930V1104Q374 1175 487 1276Q600 1377 647 1472H763Z" transform="translate(0.00,0.00) scale(0.01172,-0.01122)"/></g><g transform="translate(814,986.4) rotate(-90)"><text text-anchor="middle" transform="translate(-6.33,0.00) scale(0.9,1)">3</text><text text-anchor="middle" transform="translate(6.67,0.00) scale(0.9,1)">2</text></g><g transform="translate(835,986.4) rotate(-90)"><text text-anchor="middle" transform="translate(-6.33,0.00) scale(0.9,1)">3</text><text text-anchor="middle" transform="translate(6.67,0.00) scale(0.9,1)">3</text></g><g transform="translate(856,986.4) rotate(-90)"><text text-anchor="middle" transform="translate(-6.33,0.00) scale(0.9,1)">3</text><text text-anchor="middle" transform="translate(6.67,0.00) scale(0.9,1)">4</text></g><g transform="translate(878,986.4) rotate(-90)"><text text-anchor="middle" transform="translate(-6.33,0.00) scale(0.9,1)">3</text><text text-anchor="middle" transform="translate(6.67,0.00) scale(0.9,1)">5</text></g><g transform="translate(899,986.4) rotate(-90)"><text text-anchor="middle" transform="translate(-6.33,0.00) scale(0.9,1)">3</text><text text-anchor="middle" transform="translate(6.67,0.00) scale(0.9,1)">6</text></g><g transform="translate(920,986.4) rotate(-90)"><text text-anchor="middle" transform="translate(-6.33,0.00) scale(0.9,1)">3</text><text text-anchor="middle" transform="translate(6.67,0.00) scale(0.9,1)">7</text></g><g transform="translate(941,986.4) rotate(-90)"><text text-anchor="middle" transform="translate(-6.33,0.00) scale(0.9,1)">3</text><text text-anchor="middle" transform="translate(6.67,0.00) scale(0.9,1)">8</text></g><g transform="translate(963,986.4) rotate(-90)"><text text-anchor="middle" transform="translate(-6.33,0.00) scale(0.9,1)">3</text><text text-anchor="middle" transform="translate(6.67,0.00) scale(0.9,1)">9</text></g><g transform="translate(984,986.4) rotate(-90)"><text text-anchor="middle" transform="translate(-6.33,0.00) scale(0.9,1)">4</text><text text-anchor="middle" transform="translate(6.67,0.00) scale(0.9,1)">0</text></g><g transform="translate(1005,986.4) rotate(-90)"><text text-anchor="middle" transform="translate(-6.33,0.00) scale(0.9,1)">4</text><path d="M763 0H583V1147Q518 1085 412.5 1023Q307 961 223 930V1104Q374 1175 487 1276Q600 1377 647 1472H763Z" transform="translate(0.00,0.00) scale(0.01172,-0.01122)"/></g><g transform="translate(1027,986.4) rotate(-90)"><text text-anchor="middle" transform="translate(-6.33,0.00) scale(0.9,1)">4</text><text text-anchor="middle" transform="translate(6.67,0.00) scale(0.9,1)">2</text></g><g transform="translate(1048,986.4) rotate(-90)"><text text-anchor="middle" transform="translate(-6.33,0.00) scale(0.9,1)">4</text><text text-anchor="middle" transform="translate(6.67,0.00) scale(0.9,1)">3</text></g><g transform="translate(1069,986.4) rotate(-90)"><text text-anchor="middle" transform="translate(-6.33,0.00) scale(0.9,1)">4</text><text text-anchor="middle" transform="translate(6.67,0.00) scale(0.9,1)">4</text></g><g transform="translate(1091,986.4) rotate(-90)"><text text-anchor="middle" transform="translate(-6.33,0.00) scale(0.9,1)">4</text><text text-anchor="middle" transform="translate(6.67,0.00) scale(0.9,1)">5</text></g><g transform="translate(1112,986.4) rotate(-90)"><text text-anchor="middle" transform="translate(-6.33,0.00) scale(0.9,1)">4</text><text text-anchor="middle" transform="translate(6.67,0.00) scale(0.9,1)">6</text></g><g transform="translate(1133,986.4) rotate(-90)"><text text-anchor="middle" transform="translate(-6.33,0.00) scale(0.9,1)">4</text><text text-anchor="middle" transform="translate(6.67,0.00) scale(0.9,1)">7</text></g><g transform="translate(1155,986.4) rotate(-90)"><text text-anchor="middle" transform="translate(-6.33,0.00) scale(0.9,1)">4</text><text text-anchor="middle" transform="translate(6.67,0.00) scale(0.9,1)">8</text></g><g transform="translate(1176,986.4) rotate(-90)"><text text-anchor="middle" transform="translate(-6.33,0.00) scale(0.9,1)">4</text><text text-anchor="middle" transform="translate(6.67,0.00) scale(0.9,1)">9</text></g><g transform="translate(1197,986.4) rotate(-90)"><text text-anchor="middle" transform="translate(-6.33,0.00) scale(0.9,1)">5</text><text text-anchor="middle" transform="translate(6.67,0.00) scale(0.9,1)">0</text></g><g transform="translate(1218,986.4) rotate(-90)"><text text-anchor="middle" transform="translate(-6.33,0.00) scale(0.9,1)">5</text><path d="M763 0H583V1147Q518 1085 412.5 1023Q307 961 223 930V1104Q374 1175 487 1276Q600 1377 647 1472H763Z" transform="translate(0.00,0.00) scale(0.01172,-0.01122)"/></g><g transform="translate(1240,986.4) rotate(-90)"><text text-anchor="middle" transform="translate(-6.33,0.00) scale(0.9,1)">5</text><text text-anchor="middle" transform="translate(6.67,0.00) scale(0.9,1)">2</text></g><g transform="translate(1261,986.4) rotate(-90)"><text text-anchor="middle" transform="translate(-6.33,0.00) scale(0.9,1)">5</text><text text-anchor="middle" transform="translate(6.67,0.00) scale(0.9,1)">3</text></g></g>
<text id="t1" class="ti" transform="translate(573.50,1028) scale(0.9310,1)">Epidemiological</text>
<text id="t2" class="ti" transform="translate(770.74,1028) scale(0.9630,1)">Week</text>
<text id="l1" class="lg" transform="translate(455.35,1109) scale(0.9542,1)">Respiratory</text>
<text id="l2" class="lg" transform="translate(579.04,1109) scale(0.9447,1)">Outbreaks</text>
<text id="l3" class="lg" transform="translate(818.14,1109) scale(0.9627,1)">COVID-</text>
<text id="l4" class="lg" transform="translate(930.51,1109) scale(0.9497,1)">Outbreaks</text>
<text id="y1" class="ti" transform="translate(36,573.13) rotate(-90) scale(0.9392,1)">Outbreaks</text>
<g class="lg"><path d="M763 0H583V1147Q518 1085 412.5 1023Q307 961 223 930V1104Q374 1175 487 1276Q600 1377 647 1472H763Z" transform="translate(898.56,1109.00) scale(0.01172,-0.01122)"/><text text-anchor="middle" transform="translate(918.23,1109.00) scale(1.0,1)">9</text></g>
<rect class="crisp" x="396" y="1078" width="43" height="42" fill="#44A518" fill-opacity="0.3"/>
<rect class="crisp" x="762" y="1098" width="37" height="2" fill="#44A518"/>
<polygon class="crisp" points="778.40,1094.00 781.60,1094.00 785.00,1097.40 785.00,1100.60 781.60,1104.00 778.40,1104.00 775.00,1100.60 775.00,1097.40" fill="#44A518"/>
</svg></body></html>
